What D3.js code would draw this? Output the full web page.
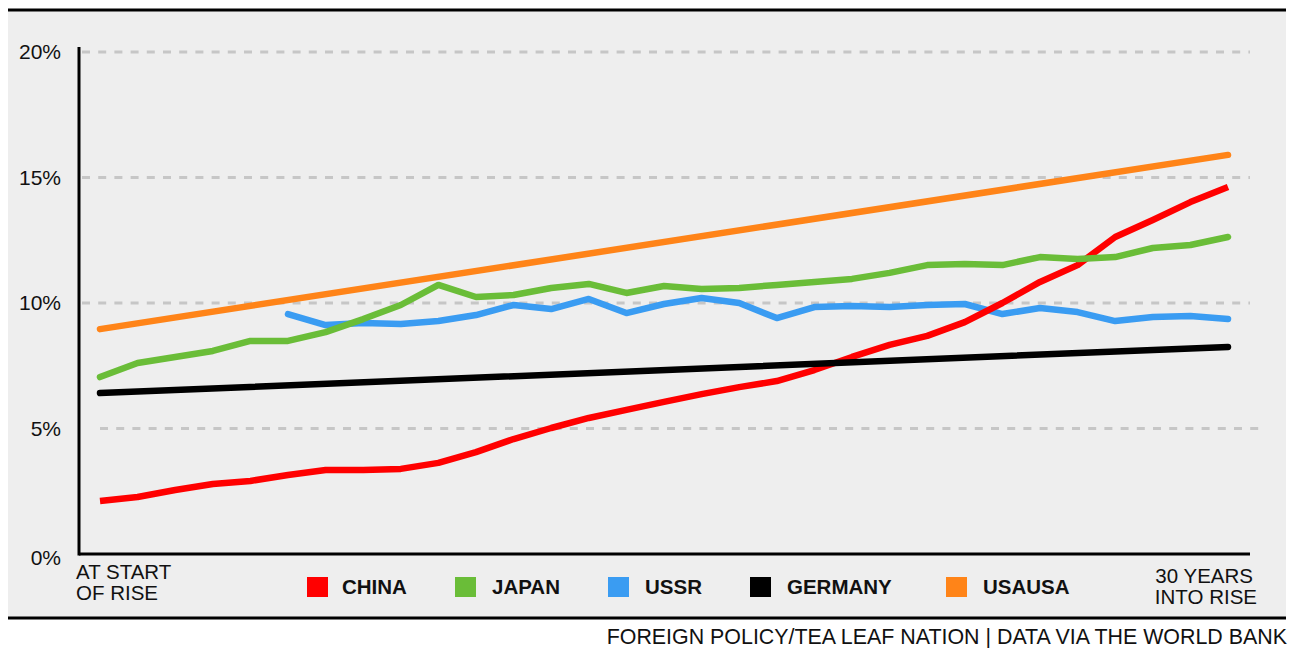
<!DOCTYPE html>
<html>
<head>
<meta charset="utf-8">
<script src="https://cdn.jsdelivr.net/npm/d3@7"></script>
<style>
  body { margin: 0; background: #fff; }
  text { font-family: 'Liberation Sans', Arial, sans-serif; }
</style>
</head>
<body>
<div class="chart"></div>
<script>
// years into the rise, 0..30
var years = d3.range(0, 31);

var china = [2.11, 2.27, 2.55, 2.79, 2.91, 3.15, 3.35, 3.35, 3.39, 3.63, 4.06, 4.58, 5.02, 5.42, 5.74, 6.06,
  6.37, 6.65, 6.89, 7.33, 7.85, 8.33, 8.69, 9.24, 10.0, 10.84, 11.51, 12.63, 13.31, 14.02, 14.62];
var japan = [7.05, 7.61, 7.85, 8.09, 8.49, 8.49, 8.84, 9.36, 9.92, 10.72, 10.24, 10.32, 10.6, 10.76, 10.4, 10.68,
  10.56, 10.6, 10.72, 10.84, 10.96, 11.2, 11.51, 11.55, 11.51, 11.83, 11.75, 11.83, 12.19, 12.31, 12.63];
// USSR series starts at year 5
var ussrStart = 5;
var ussr = [9.56, 9.12, 9.2, 9.16, 9.28, 9.52, 9.92, 9.76, 10.16, 9.6, 9.96, 10.2, 10.0, 9.4, 9.84,
  9.88, 9.84, 9.92, 9.96, 9.56, 9.8, 9.64, 9.28, 9.44, 9.48, 9.36];
// straight lines: start and end only
var germanyYears = [0, 30];
var germany = [6.41, 8.25];
var usaYears = [0, 30];
var usa = [8.96, 15.9];

var yTicks = [0, 5, 10, 15, 20];
var legendNames = ['CHINA', 'JAPAN', 'USSR', 'GERMANY', 'USAUSA'];
var colors = ['#ff0000', '#6abd38', '#3a9cf2', '#000000', '#ff8418'];
var legendX = [307, 455, 608, 750, 946];

var W = 1298, H = 648;

var svg = d3.select('.chart')
  .append('svg')
  .attr('width', W)
  .attr('height', H);

// panel
svg.append('rect')
  .attr('x', 8).attr('y', 10)
  .attr('width', 1278).attr('height', 608)
  .style('fill', '#eeeeee');

svg.append('line')
  .attr('x1', 8).attr('x2', 1286).attr('y1', 10).attr('y2', 10)
  .style('stroke', '#000').style('stroke-width', 3);
svg.append('line')
  .attr('x1', 8).attr('x2', 1286).attr('y1', 618).attr('y2', 618)
  .style('stroke', '#000').style('stroke-width', 3);

var xScale = d3.scaleLinear()
  .domain([0, 30])
  .range([100, 1228]);

var yScale = d3.scaleLinear()
  .domain([0, 20])
  .range([554, 52]);

// gridlines
svg.selectAll('.grid')
  .data(yTicks.filter(d => d > 0))
  .enter()
  .append('line')
  .attr('class', 'grid')
  .attr('x1', d => d === 5 ? 100 : 82)
  .attr('x2', d => d === 5 ? 1266 : 1250)
  .attr('y1', d => yScale(d))
  .attr('y2', d => yScale(d))
  .style('stroke', '#c6c6c6')
  .style('stroke-width', 3)
  .style('stroke-dasharray', '8,8.2');

// y axis labels
var yAxis = svg.append('g')
  .attr('transform', 'translate(61,0)')
  .call(d3.axisLeft(yScale).tickValues(yTicks).tickSize(0).tickPadding(0).tickFormat(d => d + '%'));
yAxis.select('.domain').remove();
yAxis.selectAll('text')
  .style('font-family', "'Liberation Sans', Arial, sans-serif")
  .style('font-size', '21px')
  .style('fill', '#111');
yAxis.selectAll('.tick text')
  .filter(d => d === 0)
  .attr('dy', '0.52em');
yAxis.selectAll('.tick text')
  .filter(d => d === 20)
  .attr('dy', '0.3em');

// axis lines
svg.append('line')
  .attr('x1', 79).attr('x2', 79)
  .attr('y1', 47).attr('y2', yScale(0) + 1.5)
  .style('stroke', '#000').style('stroke-width', 3);
svg.append('line')
  .attr('x1', 79).attr('x2', 1250)
  .attr('y1', yScale(0)).attr('y2', yScale(0))
  .style('stroke', '#000').style('stroke-width', 3);

var line = d3.line()
  .x(d => xScale(d[0]))
  .y(d => yScale(d[1]));

var series = [
  { values: ussr.map((v, i) => [ussrStart + i, v]), color: colors[2], cap: 'round' },
  { values: china.map((v, i) => [years[i], v]), color: colors[0], cap: 'butt' },
  { values: japan.map((v, i) => [years[i], v]), color: colors[1], cap: 'round' },
  { values: germany.map((v, i) => [germanyYears[i], v]), color: colors[3], cap: 'round' },
  { values: usa.map((v, i) => [usaYears[i], v]), color: colors[4], cap: 'round' }
];

svg.selectAll('.line')
  .data(series)
  .enter()
  .append('path')
  .attr('class', 'line')
  .attr('d', d => line(d.values))
  .style('stroke', d => d.color)
  .style('stroke-width', 6.5)
  .style('fill', 'none')
  .style('stroke-linejoin', 'round')
  .style('stroke-linecap', d => d.cap);

// x labels
var startLabel = svg.append('text')
  .attr('x', 76).attr('y', 579)
  .style('font-size', '20.5px').style('fill', '#111');
startLabel.append('tspan').attr('x', 76).text('AT START');
startLabel.append('tspan').attr('x', 76).attr('dy', 21).text('OF RISE');

var endLabel = svg.append('text')
  .attr('x', 1256).attr('y', 583)
  .style('font-size', '20.5px').style('fill', '#111')
  .style('text-anchor', 'end');
endLabel.append('tspan').attr('x', 1253).text('30 YEARS');
endLabel.append('tspan').attr('x', 1257).attr('dy', 21).text('INTO RISE');

// legend
var legend = svg.selectAll('.legend')
  .data(legendNames)
  .enter()
  .append('g')
  .attr('class', 'legend')
  .attr('transform', (d, i) => 'translate(' + legendX[i] + ',577)');

legend.append('rect')
  .attr('width', 21).attr('height', 20)
  .style('fill', (d, i) => colors[i]);

legend.append('text')
  .attr('x', (d, i) => i === 0 ? 35 : 37)
  .attr('y', 17)
  .style('font-size', '20.5px')
  .style('font-weight', 'bold')
  .style('fill', '#111')
  .text(d => d);

// credit
svg.append('text')
  .attr('x', 1287).attr('y', 644)
  .style('text-anchor', 'end')
  .style('font-size', '21.4px')
  .style('fill', '#111')
  .text('FOREIGN POLICY/TEA LEAF NATION | DATA VIA THE WORLD BANK');
</script>
</body>
</html>
